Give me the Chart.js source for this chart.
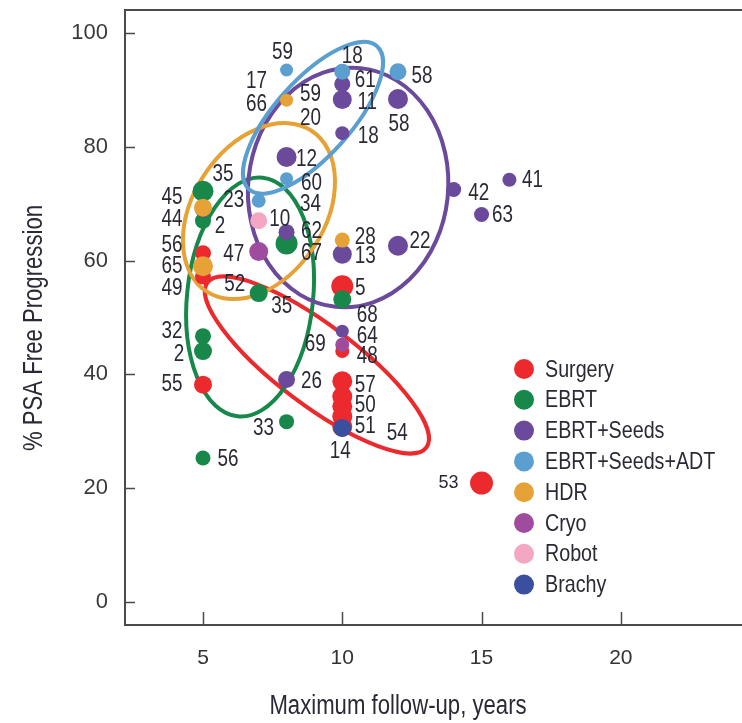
<!DOCTYPE html>
<html>
<head>
<meta charset="utf-8">
<script src="https://cdn.jsdelivr.net/npm/chart.js@4.4.0/dist/chart.umd.min.js"></script>
<style>
  html, body { margin: 0; padding: 0; background: #fff; }
  #wrap { width: 742px; height: 723px; position: relative; }
</style>
</head>
<body>
<div id="wrap"><canvas id="psaChart" width="742" height="723"></canvas></div>
<script>
// ---- data ----
const seriesNames = ['Surgery', 'EBRT', 'EBRT+Seeds', 'EBRT+Seeds+ADT', 'HDR', 'Cryo', 'Robot', 'Brachy'];

const surgeryX = [5, 5, 5, 10, 10, 10, 10, 10, 10, 10, 15];
const surgeryY = [61.3, 57.2, 38.2, 55.5, 44.1, 38.8, 36.1, 34.4, 32.6, 30.8, 20.9];
const surgeryTags = ['56', '49', '55', '5', '48', '57', '', '50', '54', '51', '53'];

const ebrtX = [5, 5, 8, 7, 10, 5, 5, 8, 5];
const ebrtY = [72.2, 67, 63, 54.3, 53.2, 46.7, 44.1, 31.7, 25.3];
const ebrtTags = ['35 45', '44 2', '67', '52 35', '68', '32', '2', '33', '56'];

const seedsX = [5, 8, 8, 10, 10, 10, 12, 14, 16, 15, 10, 12, 8, 10];
const seedsY = [69, 65, 78.2, 91, 88.3, 82.4, 88.4, 72.5, 74.2, 68.1, 61.1, 62.6, 39.1, 47.6];
const seedsTags = ['', '62', '12', '61', '11', '18', '58', '42', '41', '63', '13', '22', '26', '64'];

const adtX = [8, 10, 12, 8, 7];
const adtY = [93.5, 93.2, 93.2, 74.4, 70.5];
const adtTags = ['59', '18', '58', '60 34', '23'];

const hdrX = [8, 5, 5, 10];
const hdrY = [88.2, 69.3, 59, 63.6];
const hdrTags = ['17 66 59 20', '', '65', '28'];

const cryoX = [7, 10];
const cryoY = [61.6, 45.2];
const cryoTags = ['47', '69'];

const robotX = [7];
const robotY = [67];
const robotTags = ['10'];

const brachyX = [10];
const brachyY = [30.6];
const brachyTags = ['14'];

const xTicks = [5, 10, 15, 20];
const yTicks = [0, 20, 40, 60, 80, 100];

// ---- styling / layout (not data) ----
const seriesColors = ['#ec2a2e', '#17884a', '#6b4a9c', '#5b9fd0', '#e6a236', '#9f4c9f', '#f4a7c2', '#3b4f9f'];

const surgeryRadii = [8, 8, 9, 11, 7, 10, 10, 10, 10, 10, 11.5];
const ebrtRadii = [10.5, 8, 11, 9, 9, 8, 9, 7.5, 7.5];
const seedsRadii = [8, 8, 10, 8, 9.5, 7, 10, 7.5, 7, 7.5, 9.5, 10, 8.5, 6.5];
const adtRadii = [6.5, 8, 8.5, 6.5, 7];
const hdrRadii = [6.5, 9, 10, 7.5];
const cryoRadii = [9.5, 7];
const robotRadii = [8.5];
const brachyRadii = [9];

// pixel offsets of each number tag from its dot
const surgeryTagOffsets = [[[-31, -8]], [[-31, 12]], [[-31, 0]], [[18, 2]], [[25, 6]], [[23, 4]], [], [[23, -1]], [[55, 17]], [[23, 0]], [[-33, 0]]];
const ebrtTagOffsets = [[[20, -17], [-31, 6]], [[-31, -1], [17, 6]], [[25, 10]], [[-24, -8], [23, 14]], [[25, 16]], [[-31, -5]], [[-24, 4]], [[-23, 7]], [[25, 2]]];
const seedsTagOffsets = [[], [[25, 0]], [[20, 3]], [[23, -4]], [[25, 3]], [[26, 4]], [[1, 26]], [[25, 4]], [[23, 1]], [[21, 1]], [[23, 2]], [[22, -4]], [[25, 2]], [[25, 5]]];
const adtTagOffsets = [[[-4, -17]], [[10, -15]], [[24, 5]], [[25, 5], [24, 26]], [[-25, 0]]];
const hdrTagOffsets = [[[-30, -18], [-30, 5], [24, -5], [24, 19]], [], [[-31, 0]], [[23, -2]]];
const cryoTagOffsets = [[[-25, 3]], [[-27, 0]]];
const robotTagOffsets = [[[21, -1]]];
const brachyTagOffsets = [[[-2, 24]]];

// hand-drawn rings: centre in data units, radii in px, rotation in degrees
const rings = [
  { series: 0, cx: 9.09, cy: 41.65, rx: 137, ry: 40, rot: 37 },
  { series: 1, cx: 6.69, cy: 53.6, rx: 63, ry: 120, rot: 6 },
  { series: 2, cx: 10.21, cy: 72.85, rx: 100, ry: 120, rot: 6 },
  { series: 4, cx: 7.01, cy: 68.7, rx: 96, ry: 65.6, rot: -56.8 },
  { series: 3, cx: 8.95, cy: 85.1, rx: 96, ry: 38, rot: -48.2 }
];

const inkColor = '#2a2a36';
const axisColor = '#4a4a4a';
const plainFont = "'Liberation Sans', Arial, sans-serif";
const squeeze = 0.82;   // figure uses a narrow face, so squeeze the Arial-like one

// draws text squeezed horizontally, centred on x
function narrowText(ctx, text, x, y, size, align) {
  ctx.save();
  ctx.font = size + 'px ' + plainFont;
  ctx.textAlign = align || 'center';
  ctx.textBaseline = 'middle';
  ctx.translate(x, y);
  ctx.scale(squeeze, 1);
  ctx.fillText(text, 0, 0);
  ctx.restore();
}

const seriesData = [
  [surgeryX, surgeryY, surgeryTags, surgeryRadii, surgeryTagOffsets],
  [ebrtX, ebrtY, ebrtTags, ebrtRadii, ebrtTagOffsets],
  [seedsX, seedsY, seedsTags, seedsRadii, seedsTagOffsets],
  [adtX, adtY, adtTags, adtRadii, adtTagOffsets],
  [hdrX, hdrY, hdrTags, hdrRadii, hdrTagOffsets],
  [cryoX, cryoY, cryoTags, cryoRadii, cryoTagOffsets],
  [robotX, robotY, robotTags, robotRadii, robotTagOffsets],
  [brachyX, brachyY, brachyTags, brachyRadii, brachyTagOffsets]
];

const datasets = seriesData.map(function(s, i) {
  return {
    label: seriesNames[i],
    data: s[0].map((x, j) => ({ x: x, y: s[1][j] })),
    backgroundColor: seriesColors[i],
    borderWidth: 0,
    pointRadius: s[3],
    pointHoverRadius: s[3],
    // later series sit on top of earlier ones
    order: seriesNames.length - i
  };
});

// rings behind the dots
const ringPlugin = {
  id: 'rings',
  beforeDatasetsDraw(chart) {
    const ctx = chart.ctx;
    const xs = chart.scales.x, ys = chart.scales.y;
    ctx.save();
    ctx.beginPath();
    ctx.rect(chart.chartArea.left, chart.chartArea.top, chart.chartArea.width, chart.chartArea.height);
    ctx.clip();
    rings.forEach(function(r) {
      ctx.beginPath();
      ctx.ellipse(xs.getPixelForValue(r.cx), ys.getPixelForValue(r.cy), r.rx, r.ry, r.rot * Math.PI / 180, 0, Math.PI * 2);
      ctx.strokeStyle = seriesColors[r.series];
      ctx.lineWidth = 4;
      ctx.stroke();
    });
    ctx.restore();
  }
};

// number tags next to dots, frame, inward ticks, titles and legend
const decorPlugin = {
  id: 'decor',
  afterDatasetsDraw(chart) {
    const ctx = chart.ctx;
    ctx.save();
    ctx.fillStyle = inkColor;
    seriesData.forEach(function(s, i) {
      const meta = chart.getDatasetMeta(i);
      s[2].forEach(function(tag, j) {
        if (!tag) return;
        const el = meta.data[j];
        tag.split(' ').forEach(function(t, k) {
          const off = s[4][j][k];
          if (t === '53') {
            ctx.font = '18px ' + plainFont;
            ctx.textAlign = 'center';
            ctx.textBaseline = 'middle';
            ctx.fillText(t, el.x + off[0], el.y + off[1]);
          } else {
            narrowText(ctx, t, el.x + off[0], el.y + off[1], 23);
          }
        });
      });
    });
    ctx.restore();
  },
  afterDraw(chart) {
    const ctx = chart.ctx;
    const area = chart.chartArea;
    const xs = chart.scales.x, ys = chart.scales.y;
    ctx.save();
    ctx.strokeStyle = axisColor;
    ctx.lineWidth = 2;
    // top frame line
    ctx.beginPath();
    ctx.moveTo(area.left, area.top);
    ctx.lineTo(chart.width, area.top);
    ctx.stroke();
    // inward ticks
    ctx.lineWidth = 1.5;
    yTicks.forEach(function(v) {
      const py = Math.round(ys.getPixelForValue(v)) + 0.5;
      ctx.beginPath();
      ctx.moveTo(area.left, py);
      ctx.lineTo(area.left + 10, py);
      ctx.stroke();
    });
    xTicks.forEach(function(v) {
      const px = Math.round(xs.getPixelForValue(v)) + 0.5;
      ctx.beginPath();
      ctx.moveTo(px, area.bottom);
      ctx.lineTo(px, area.bottom - 13);
      ctx.stroke();
    });

    // axis titles
    ctx.fillStyle = inkColor;
    narrowText(ctx, 'Maximum follow-up, years', 398, 707, 27);
    ctx.save();
    ctx.translate(35, 328);
    ctx.rotate(-Math.PI / 2);
    narrowText(ctx, '% PSA Free Progression', 0, 0, 27);
    ctx.restore();

    // legend inside the plot
    const legX = 524, legY = 369, legStep = 30.8;
    seriesNames.forEach(function(name, i) {
      const y = legY + i * legStep;
      ctx.beginPath();
      ctx.arc(legX, y, 10, 0, Math.PI * 2);
      ctx.fillStyle = seriesColors[i];
      ctx.fill();
      ctx.fillStyle = inkColor;
      narrowText(ctx, name, legX + 21, y + 1, 24, 'left');
    });
    ctx.restore();
  }
};

new Chart(document.getElementById('psaChart'), {
  type: 'scatter',
  data: { datasets: datasets },
  options: {
    responsive: false,
    animation: false,
    devicePixelRatio: 1,
    layout: { autoPadding: false, padding: { top: 10, right: 0, left: 0, bottom: 0 } },
    plugins: {
      legend: { display: false },
      tooltip: { enabled: false }
    },
    scales: {
      x: {
        type: 'linear',
        min: 2.2,
        max: 24.35,
        grid: { display: false, drawTicks: false },
        border: { display: true, color: axisColor, width: 2 },
        afterBuildTicks: function(scale) { scale.ticks = xTicks.map(v => ({ value: v })); },
        afterFit: function(scale) {
          scale.height = 98;
          scale.paddingLeft = 0;
          scale.paddingRight = 0;
        },
        ticks: {
          padding: 21,
          color: '#333',
          font: { family: plainFont, size: 21 },
          callback: function(v) { return v; }
        }
      },
      y: {
        type: 'linear',
        min: -4.04,
        max: 104.04,
        grid: { display: false, drawTicks: false },
        border: { display: true, color: axisColor, width: 2 },
        afterBuildTicks: function(scale) { scale.ticks = yTicks.map(v => ({ value: v })); },
        afterFit: function(scale) {
          scale.width = 125;
          scale.paddingTop = 0;
          scale.paddingBottom = 0;
        },
        ticks: {
          padding: 17,
          color: '#3a3a3a',
          font: { family: plainFont, size: 22 },
          callback: function(v) { return v; }
        }
      }
    }
  },
  plugins: [ringPlugin, decorPlugin]
});
</script>
</body>
</html>
